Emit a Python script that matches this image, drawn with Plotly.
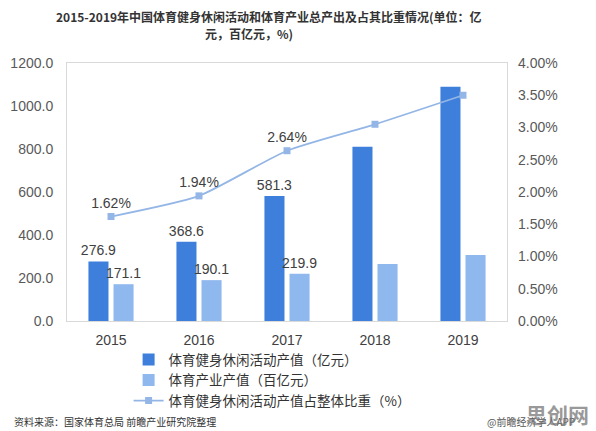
import plotly.graph_objects as go

years = ["2015", "2016", "2017", "2018", "2019"]
fitness_value = [276.9, 368.6, 581.3, 811.0, 1090.0]      # 亿元
industry_value = [171.1, 190.1, 219.9, 265.0, 307.0]     # 百亿元
share_pct = [1.62, 1.94, 2.64, 3.05, 3.50]               # %
fitness_labels = ["276.9", "368.6", "581.3", "", ""]
industry_labels = ["171.1", "190.1", "219.9", "", ""]
share_labels = ["1.62%", "1.94%", "2.64%", "", ""]
left_ticks = [0, 200, 400, 600, 800, 1000, 1200]
right_ticks = [0, 0.5, 1.0, 1.5, 2.0, 2.5, 3.0, 3.5, 4.0]
title_line1 = "2015-2019年中国体育健身休闲活动和体育产业总产出及占其比重情况(单位：亿"
title_line2 = "元，百亿元，%)"

FONT = "Liberation Sans, Arial, Noto Sans CJK SC, sans-serif"
CJK = "Noto Sans CJK SC, sans-serif"
DARK = "#3f7fdc"
LIGHT = "#8fb8ef"
LINE = "#94b6e6"

fig = go.Figure()
fig.add_trace(go.Bar(
    x=years, y=fitness_value, name="体育健身休闲活动产值（亿元）",
    marker=dict(color=DARK, line=dict(width=0)),
    text=fitness_labels, textposition="outside", cliponaxis=False,
    constraintext="none",
    textfont=dict(size=14, color="#404040", family=FONT),
))
fig.add_trace(go.Bar(
    x=years, y=industry_value, name="体育产业产值（百亿元）",
    marker=dict(color=LIGHT, line=dict(width=0)),
    text=industry_labels, textposition="outside", cliponaxis=False,
    constraintext="none",
    textfont=dict(size=14, color="#404040", family=FONT),
))
fig.add_trace(go.Scatter(
    x=years, y=share_pct, name="体育健身休闲活动产值占整体比重（%）",
    yaxis="y2", mode="lines+markers+text",
    line=dict(color=LINE, width=1.8, shape="spline", smoothing=0.6),
    marker=dict(symbol="square", size=7, color=LINE),
    text=share_labels, textposition="top center", cliponaxis=False,
    textfont=dict(size=14, color="#404040", family=FONT),
))

fig.update_layout(
    width=596, height=431,
    margin=dict(l=67, r=89, t=63, b=110, autoexpand=False),
    paper_bgcolor="white", plot_bgcolor="white",
    barmode="group", bargap=0.43, bargroupgap=0.2,
    showlegend=True,
    legend=dict(
        x=0.14, y=-0.09, xanchor="left", yanchor="top",
        orientation="v", itemwidth=30, tracegroupgap=0,
        font=dict(size=13.5, color="#333333", family=CJK),
        bgcolor="rgba(0,0,0,0)", traceorder="normal",
    ),
    xaxis=dict(
        type="category", showgrid=False, showline=True, mirror=True,
        linecolor="#d9d9d9", linewidth=1, ticks="",
        tickfont=dict(size=14, color="#404040", family=FONT),
        ticklabelstandoff=6,
    ),
    yaxis=dict(
        range=[0, 1200], tickvals=left_ticks,
        ticktext=[f"{v:.1f}" for v in left_ticks],
        showgrid=False, zeroline=False, showline=True, mirror=True,
        linecolor="#d9d9d9", linewidth=1,
        tickfont=dict(size=14, color="#595959", family=FONT),
        ticklabelstandoff=10,
    ),
    yaxis2=dict(
        range=[0, 4.0], tickvals=right_ticks,
        ticktext=[f"{v:.2f}%" for v in right_ticks],
        overlaying="y", side="right", showgrid=False, zeroline=False,
        showline=False,
        tickfont=dict(size=14, color="#595959", family=FONT),
        ticklabelstandoff=10,
    ),
    annotations=[
        dict(text=f"<b>{title_line1}</b>",
             xref="paper", yref="paper", x=(269 - 67) / 440, y=(321 - 17) / 258,
             xanchor="center", yanchor="middle", showarrow=False,
             font=dict(size=12, color="#333333", family=CJK)),
        dict(text=f"<b>{title_line2}</b>",
             xref="paper", yref="paper", x=(249 - 67) / 440, y=(321 - 33) / 258,
             xanchor="center", yanchor="middle", showarrow=False,
             font=dict(size=12, color="#333333", family=CJK)),
        dict(text="资料来源：国家体育总局 前瞻产业研究院整理", xref="paper", yref="paper",
             x=-0.125, y=-0.388, xanchor="left", yanchor="middle", showarrow=False,
             font=dict(size=10, color="#333333", family=CJK)),
        dict(text="@前瞻经济学人APP", xref="paper", yref="paper",
             x=1.16, y=-0.388, xanchor="right", yanchor="middle", showarrow=False,
             font=dict(size=10, color="#555555", family=CJK)),
        dict(text="<b>思创网</b>", xref="paper", yref="paper",
             x=1.19, y=-0.36, xanchor="right", yanchor="middle", showarrow=False,
             font=dict(size=21, color="rgba(120,120,120,0.75)", family=CJK)),
    ],
)

fig.write_html("out.html")
